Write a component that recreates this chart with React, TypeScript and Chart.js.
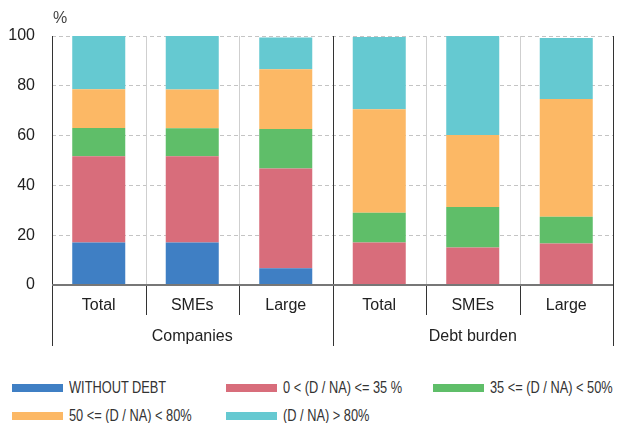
import React, { useEffect, useRef } from "react";
import { Chart, registerables } from "chart.js";

Chart.register(...registerables);

const categories = ["Total", "SMEs", "Large", "Total", "SMEs", "Large"];
const groups = ["Companies", "Debt burden"];
const yTicks = [0, 20, 40, 60, 80, 100];

const seriesNames = [
  "WITHOUT DEBT",
  "0 < (D / NA) <= 35 %",
  "35 <= (D / NA) < 50%",
  "50 <= (D / NA) < 80%",
  "(D / NA) > 80%",
];
const withoutDebt = [17.1, 17.1, 6.7, 0, 0, 0];
const lowDebt = [34.6, 34.6, 40.1, 17.1, 15.1, 16.7];
const midDebt = [11.4, 11.3, 15.9, 11.9, 16.2, 10.7];
const highDebt = [15.5, 15.5, 23.9, 41.6, 28.9, 47.3];
const veryHighDebt = [21.4, 21.5, 12.8, 29.0, 39.8, 24.5];
const seriesColors = ["#3f7fc4", "#d86d7b", "#5fbe69", "#fcb865", "#65c9d1"];

const seriesValues = [withoutDebt, lowDebt, midDebt, highDebt, veryHighDebt];

const FONT = "'Liberation Sans', Arial, Helvetica, sans-serif";

const separators = {
  id: "separators",
  afterDraw(chart: any) {
    const { ctx, chartArea, scales } = chart;
    const x = scales.x;
    const x2 = scales.x2;
    const n = categories.length;
    ctx.save();
    ctx.setLineDash([]);
    for (let i = 0; i <= n; i++) {
      const px = Math.round(x.getPixelForValue(i - 0.5)) + 0.5;
      const isGroup = i % 3 === 0;
      // inside plot area (left edge is the value axis line)
      ctx.beginPath();
      ctx.strokeStyle = isGroup ? "#333" : "#cfcfcf";
      ctx.lineWidth = 1;
      ctx.moveTo(px, chartArea.top);
      ctx.lineTo(px, chartArea.bottom);
      ctx.stroke();
      // below the axis
      ctx.beginPath();
      ctx.strokeStyle = "#333";
      ctx.moveTo(px, chartArea.bottom);
      ctx.lineTo(px, isGroup ? x2.bottom : x.bottom);
      ctx.stroke();
    }
    // zero line
    ctx.beginPath();
    ctx.strokeStyle = "#777";
    ctx.lineWidth = 2;
    ctx.moveTo(chartArea.left, chartArea.bottom);
    ctx.lineTo(chartArea.right, chartArea.bottom);
    ctx.stroke();
    // unit label
    ctx.fillStyle = "#444";
    ctx.font = `16px ${FONT}`;
    ctx.textAlign = "left";
    ctx.textBaseline = "middle";
    ctx.fillText("%", chartArea.left + 1, chartArea.top - 17);
    ctx.restore();
  },
};

export default function App() {
  const ref = useRef<HTMLCanvasElement | null>(null);

  useEffect(() => {
    if (!ref.current) return;
    const chart = new Chart(ref.current, {
      type: "bar",
      data: {
        labels: categories,
        datasets: seriesNames.map((name, i) => ({
          label: name,
          data: seriesValues[i],
          backgroundColor: seriesColors[i],
          borderWidth: 0,
          barPercentage: 0.567,
          categoryPercentage: 1,
        })),
      },
      options: {
        animation: false,
        responsive: true,
        maintainAspectRatio: false,
        layout: { padding: { left: 0, right: 11, top: 36, bottom: 4 } },
        plugins: {
          legend: { display: false },
          tooltip: { enabled: false },
          title: { display: false },
        },
        scales: {
          x: {
            type: "category",
            stacked: true,
            offset: true,
            grid: { display: false, drawTicks: false },
            border: { display: false },
            ticks: {
              color: "#222",
              font: { family: FONT, size: 16 },
              padding: 11,
              maxRotation: 0,
              autoSkip: false,
            },
            afterFit: (s: any) => {
              s.height = 30;
            },
          },
          x2: {
            type: "category",
            labels: groups,
            position: "bottom",
            offset: true,
            grid: { display: false, drawTicks: false },
            border: { display: false },
            ticks: {
              color: "#222",
              font: { family: FONT, size: 16 },
              padding: 12,
              maxRotation: 0,
              autoSkip: false,
            },
            afterFit: (s: any) => {
              s.height = 31;
            },
          },
          y: {
            stacked: true,
            min: 0,
            max: 100,
            afterBuildTicks: (s: any) => {
              s.ticks = yTicks.map((v) => ({ value: v }));
            },
            grid: {
              color: "#c4c4c4",
              lineWidth: 1,
              drawTicks: false,
            },
            border: { display: false, dash: [4, 3] },
            ticks: {
              color: "#222",
              font: { family: FONT, size: 16 },
              padding: 17,
            },
            afterFit: (s: any) => {
              s.width = 52;
            },
          },
        },
      },
      plugins: [separators],
    } as any);
    return () => chart.destroy();
  }, []);

  const legendPos = [
    { left: 12, top: 388 },
    { left: 226, top: 388 },
    { left: 433, top: 388 },
    { left: 12, top: 416 },
    { left: 226, top: 416 },
  ];

  return (
    <div style={{ position: "absolute", left: 0, top: 0, width: 624, height: 423, background: "#fff" }}>
      <div style={{ position: "absolute", left: 0, top: 0, width: 624, height: 350 }}>
        <canvas ref={ref} />
      </div>
      {seriesNames.map((name, i) => (
        <div
          key={name}
          style={{
            position: "absolute",
            left: legendPos[i].left,
            top: legendPos[i].top - 10,
            height: 20,
            display: "flex",
            alignItems: "center",
            whiteSpace: "nowrap",
          }}
        >
          <span
            style={{
              display: "inline-block",
              width: 51,
              height: 8,
              background: seriesColors[i],
              marginRight: 6,
              flex: "none",
            }}
          />
          <span
            style={{
              display: "inline-block",
              fontFamily: FONT,
              fontSize: 16,
              color: "#333",
              lineHeight: "20px",
              transform: "scaleX(0.8)",
              transformOrigin: "left center",
            }}
          >
            {name}
          </span>
        </div>
      ))}
    </div>
  );
}
